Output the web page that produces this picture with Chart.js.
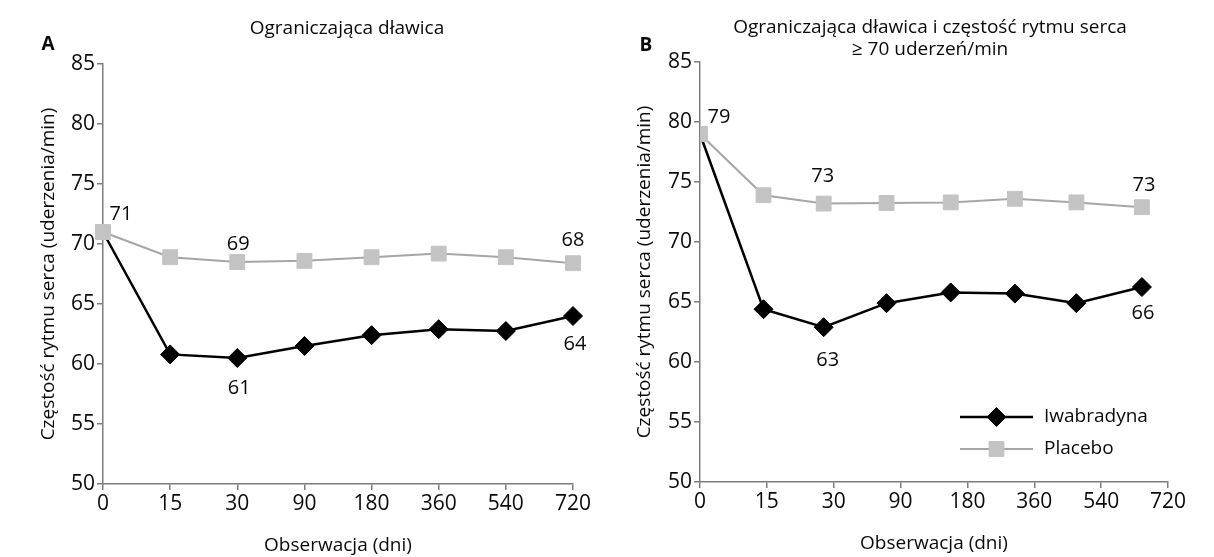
<!DOCTYPE html>
<html>
<head>
<meta charset="utf-8">
<script src="https://cdn.jsdelivr.net/npm/chart.js@4/dist/chart.umd.min.js"></script>
<style>
  html, body { margin: 0; padding: 0; background: #fff; }
  #wrap { position: relative; width: 1214px; height: 557px; }
  .panel { position: absolute; top: 0; width: 607px; height: 557px; }
  #panelA { left: 0; }
  #panelB { left: 607px; }
</style>
</head>
<body>
<div id="wrap">
  <div class="panel" id="panelA"><canvas id="chartA"></canvas></div>
  <div class="panel" id="panelB"><canvas id="chartB"></canvas></div>
</div>
<script>
// Visit days (x-axis categories)
const visits = ['0', '15', '30', '90', '180', '360', '540', '720'];

// Panel A: stable angina, mean heart rate (bpm)
const placeboA    = [71, 68.9, 68.5, 68.6, 68.9, 69.2, 68.9, 68.4];
const ivabradineA = [71, 60.8, 60.5, 61.5, 62.4, 62.9, 62.75, 64.0];

// Panel B: stable angina with baseline heart rate >= 70 bpm
const placeboB    = [79, 73.9, 73.2, 73.25, 73.3, 73.6, 73.3, 72.9];
const ivabradineB = [79, 64.4, 62.9, 64.9, 65.8, 65.7, 64.9, 66.25];
// where each B measurement sits along the visit axis
const visitPosB   = [0, 0.95, 1.85, 2.79, 3.75, 4.71, 5.63, 6.61];

const seriesNames = ['Iwabradyna', 'Placebo'];
const yTicks = [50, 55, 60, 65, 70, 75, 80, 85];

const FONT = "'Open Sans', 'Noto Sans', sans-serif";
const WEIGHT = 500;
const INK = '#0a0a0a';
const AXIS = '#7c7c7c';

const ivaStyle = {
  borderColor: '#000', backgroundColor: '#000', borderWidth: 2.5,
  pointStyle: 'rectRot', pointBorderColor: '#000', pointBackgroundColor: '#000',
  pointBorderWidth: 1, tension: 0
};
const plaStyle = {
  borderColor: '#a6a6a6', backgroundColor: '#c3c3c3', borderWidth: 2,
  pointStyle: 'rect', pointBorderColor: '#c3c3c3', pointBackgroundColor: '#c3c3c3',
  pointBorderWidth: 1, pointRadius: 10.5, tension: 0
};

// Titles and panel letter
const panelText = {
  id: 'panelText',
  afterDraw(chart, args, o) {
    const ctx = chart.ctx;
    ctx.save();
    ctx.fillStyle = INK;
    ctx.textAlign = 'center';
    ctx.textBaseline = 'middle';
    ctx.font = `bold 19px ${FONT}`;
    ctx.fillText(o.letter, o.letterX, o.letterY);
    ctx.font = `${WEIGHT} 19px ${FONT}`;
    o.title.forEach((t, i) => ctx.fillText(t, o.titleX, o.titleY + i * o.titleStep));
    ctx.restore();
  }
};

// Rounded values printed next to selected points
const valueLabels = {
  id: 'valueLabels',
  afterDatasetsDraw(chart, args, o) {
    const ctx = chart.ctx;
    ctx.save();
    ctx.fillStyle = INK;
    ctx.font = `${WEIGHT} 20px ${FONT}`;
    ctx.textAlign = 'center';
    ctx.textBaseline = 'middle';
    (o.items || []).forEach(it => {
      const el = chart.getDatasetMeta(it.ds).data[it.i];
      const raw = chart.data.datasets[it.ds].data[it.i];
      const v = typeof raw === 'object' ? raw.y : raw;
      ctx.fillText(String(Math.round(v)), el.x + it.dx, el.y + it.dy);
    });
    ctx.restore();
  }
};

// Legend drawn as line + marker samples (Iwabradyna first)
const lineLegend = {
  id: 'lineLegend',
  afterDraw(chart, args, o) {
    if (!o.show) return;
    const ctx = chart.ctx;
    ctx.save();
    const order = chart.data.datasets.slice().reverse();
    order.forEach((ds, k) => {
      const y = o.y + k * o.step;
      ctx.strokeStyle = ds.borderColor;
      ctx.lineWidth = ds.borderWidth;
      ctx.beginPath();
      ctx.moveTo(o.x, y);
      ctx.lineTo(o.x + o.len, y);
      ctx.stroke();
      const r = Array.isArray(ds.pointRadius) ? ds.pointRadius[ds.pointRadius.length - 1] : ds.pointRadius;
      ctx.fillStyle = ds.pointBackgroundColor;
      ctx.strokeStyle = ds.pointBorderColor;
      ctx.lineWidth = 1;
      Chart.helpers.drawPoint(ctx, { pointStyle: ds.pointStyle, radius: r, rotation: 0, borderWidth: 1 }, o.x + o.len / 2, y);
      ctx.fillStyle = INK;
      ctx.font = `${WEIGHT} 19px ${FONT}`;
      ctx.textAlign = 'left';
      ctx.textBaseline = 'middle';
      ctx.fillText(ds.label, o.x + o.len + 11, y);
    });
    ctx.restore();
  }
};

function fixWidth(w) {
  return scale => { scale.width = w; scale.paddingTop = 0; scale.paddingBottom = 0; scale.paddingLeft = 0; scale.paddingRight = 0; };
}
function fixHeight(h) {
  return scale => { scale.height = h; scale.paddingTop = 0; scale.paddingBottom = 0; scale.paddingLeft = 0; scale.paddingRight = 0; };
}

function yScale(width) {
  return {
    min: 50, max: 85,
    afterBuildTicks: s => { s.ticks = yTicks.map(v => ({ value: v })); },
    afterFit: fixWidth(width),
    border: { color: AXIS, width: 1.5 },
    grid: { drawOnChartArea: false, drawTicks: true, tickLength: 6, color: AXIS, lineWidth: 1.5 },
    ticks: { color: INK, font: { family: FONT, size: 21, weight: WEIGHT }, padding: 2 },
    title: { display: true, text: 'Częstość rytmu serca (uderzenia/min)', color: INK,
             font: { family: FONT, size: 19, weight: WEIGHT }, padding: { top: 0, bottom: 0 } }
  };
}

function xCommon(height, titlePadBottom) {
  return {
    afterFit: fixHeight(height),
    border: { color: AXIS, width: 1.5 },
    grid: { drawOnChartArea: false, drawTicks: true, tickLength: 6, color: AXIS, lineWidth: 1.5, offset: false },
    ticks: { color: INK, font: { family: FONT, size: 21, weight: WEIGHT }, padding: 1, autoSkip: false, maxRotation: 0 },
    title: { display: true, text: 'Obserwacja (dni)', color: INK,
             font: { family: FONT, size: 19, weight: WEIGHT }, padding: { top: 0, bottom: titlePadBottom } }
  };
}

const markerRadii = n => visits.map((_, i) => (i === 0 ? 0 : n));

// Panel A
new Chart(document.getElementById('chartA'), {
  type: 'line',
  data: {
    labels: visits,
    datasets: [
      Object.assign({ label: seriesNames[1], data: placeboA }, plaStyle),
      Object.assign({ label: seriesNames[0], data: ivabradineA, pointRadius: markerRadii(9.5) }, ivaStyle)
    ]
  },
  options: {
    responsive: true, maintainAspectRatio: false, animation: false,
    layout: { padding: { left: 37, right: 34, top: 64, bottom: 0 } },
    scales: {
      x: Object.assign({ type: 'category', offset: false }, xCommon(73, 0)),
      y: yScale(66)
    },
    plugins: {
      legend: { display: false }, tooltip: { enabled: false },
      panelText: { letter: 'A', letterX: 48, letterY: 45, title: ['Ograniczająca dławica'], titleX: 347, titleY: 29, titleStep: 22 },
      valueLabels: { items: [
        { ds: 0, i: 0, dx: 18, dy: -18 },
        { ds: 0, i: 2, dx: 1, dy: -18 },
        { ds: 0, i: 7, dx: 0, dy: -23 },
        { ds: 1, i: 2, dx: 2, dy: 30 },
        { ds: 1, i: 7, dx: 2, dy: 28 }
      ] },
      lineLegend: { show: false }
    }
  },
  plugins: [panelText, valueLabels, lineLegend]
});

// Panel B
const xB = xCommon(75, 2);
xB.ticks.stepSize = 1;
xB.ticks.callback = v => visits[v];
new Chart(document.getElementById('chartB'), {
  type: 'line',
  data: {
    datasets: [
      Object.assign({ label: seriesNames[1], data: placeboB.map((y, i) => ({ x: visitPosB[i], y })) }, plaStyle),
      Object.assign({ label: seriesNames[0], data: ivabradineB.map((y, i) => ({ x: visitPosB[i], y })), pointRadius: markerRadii(9.5) }, ivaStyle)
    ]
  },
  options: {
    responsive: true, maintainAspectRatio: false, animation: false,
    layout: { padding: { left: 26, right: 46, top: 62, bottom: 0 } },
    scales: {
      x: Object.assign({ type: 'linear', min: 0, max: 7 }, xB),
      y: yScale(67)
    },
    plugins: {
      legend: { display: false }, tooltip: { enabled: false },
      panelText: { letter: 'B', letterX: 39, letterY: 46, title: ['Ograniczająca dławica i częstość rytmu serca', '≥ 70 uderzeń/min'], titleX: 323, titleY: 28, titleStep: 22 },
      valueLabels: { items: [
        { ds: 0, i: 0, dx: 19, dy: -17 },
        { ds: 0, i: 2, dx: -1, dy: -27 },
        { ds: 0, i: 7, dx: 2, dy: -22 },
        { ds: 1, i: 2, dx: 4, dy: 33 },
        { ds: 1, i: 7, dx: 1, dy: 26 }
      ] },
      lineLegend: { show: true, x: 353, y: 417, step: 32, len: 73 }
    }
  },
  plugins: [panelText, valueLabels, lineLegend]
});
</script>
</body>
</html>
